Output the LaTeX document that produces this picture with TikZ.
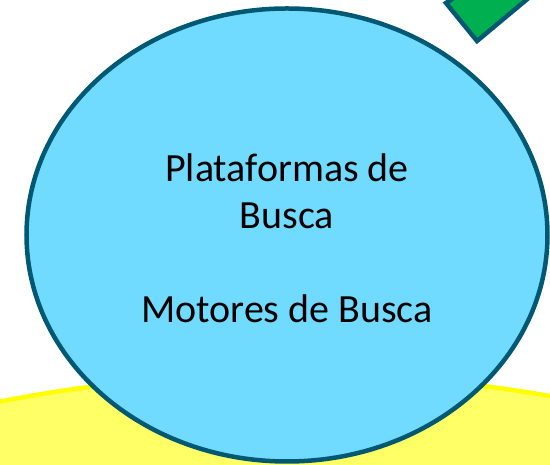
\documentclass[tikz,border=0pt]{standalone}
\usepackage{fontspec}
\setmainfont{Carlito}
\usepackage{tikz}
\usetikzlibrary{shapes.geometric}
\definecolor{bordaazul}{RGB}{0,88,115}
\definecolor{azulclaro}{RGB}{112,219,255}
\definecolor{verde}{RGB}{0,176,80}
\definecolor{amarelo}{RGB}{255,255,0}
\definecolor{amareloclaro}{RGB}{255,255,102}
\tikzset{basic/.style={draw=bordaazul,line width=4.5pt}}
\tikzset{bolha/.style={basic,ellipse,fill=azulclaro,minimum width=521pt,minimum height=453pt,inner sep=0pt}}
\tikzset{base/.style={ellipse,draw=amarelo,fill=amareloclaro,line width=4.5pt,minimum width=1800pt,minimum height=1040pt}}
\tikzset{rotulo/.style={font=\fontsize{40}{47}\selectfont,align=center}}

\begin{document}
\begin{tikzpicture}[x=1pt,y=1pt]
        \useasboundingbox (0,0) rectangle (550,465);
        \clip (0,0) rectangle (550,465);
        \node[base] (fundo) at (290,-429) {};
        \node[bolha] (plataformas) at (287,230) {};
        \node[rotulo] (texto) at ([yshift=-3pt]plataformas.center) {Plataformas de\\Busca\\[47pt]Motores de Busca};
        % losango verde no canto
        \draw[basic,fill=verde] (446,462) -- (477,424) -- (537,474) -- (506,500) -- cycle;
    \end{tikzpicture}
\end{document}
